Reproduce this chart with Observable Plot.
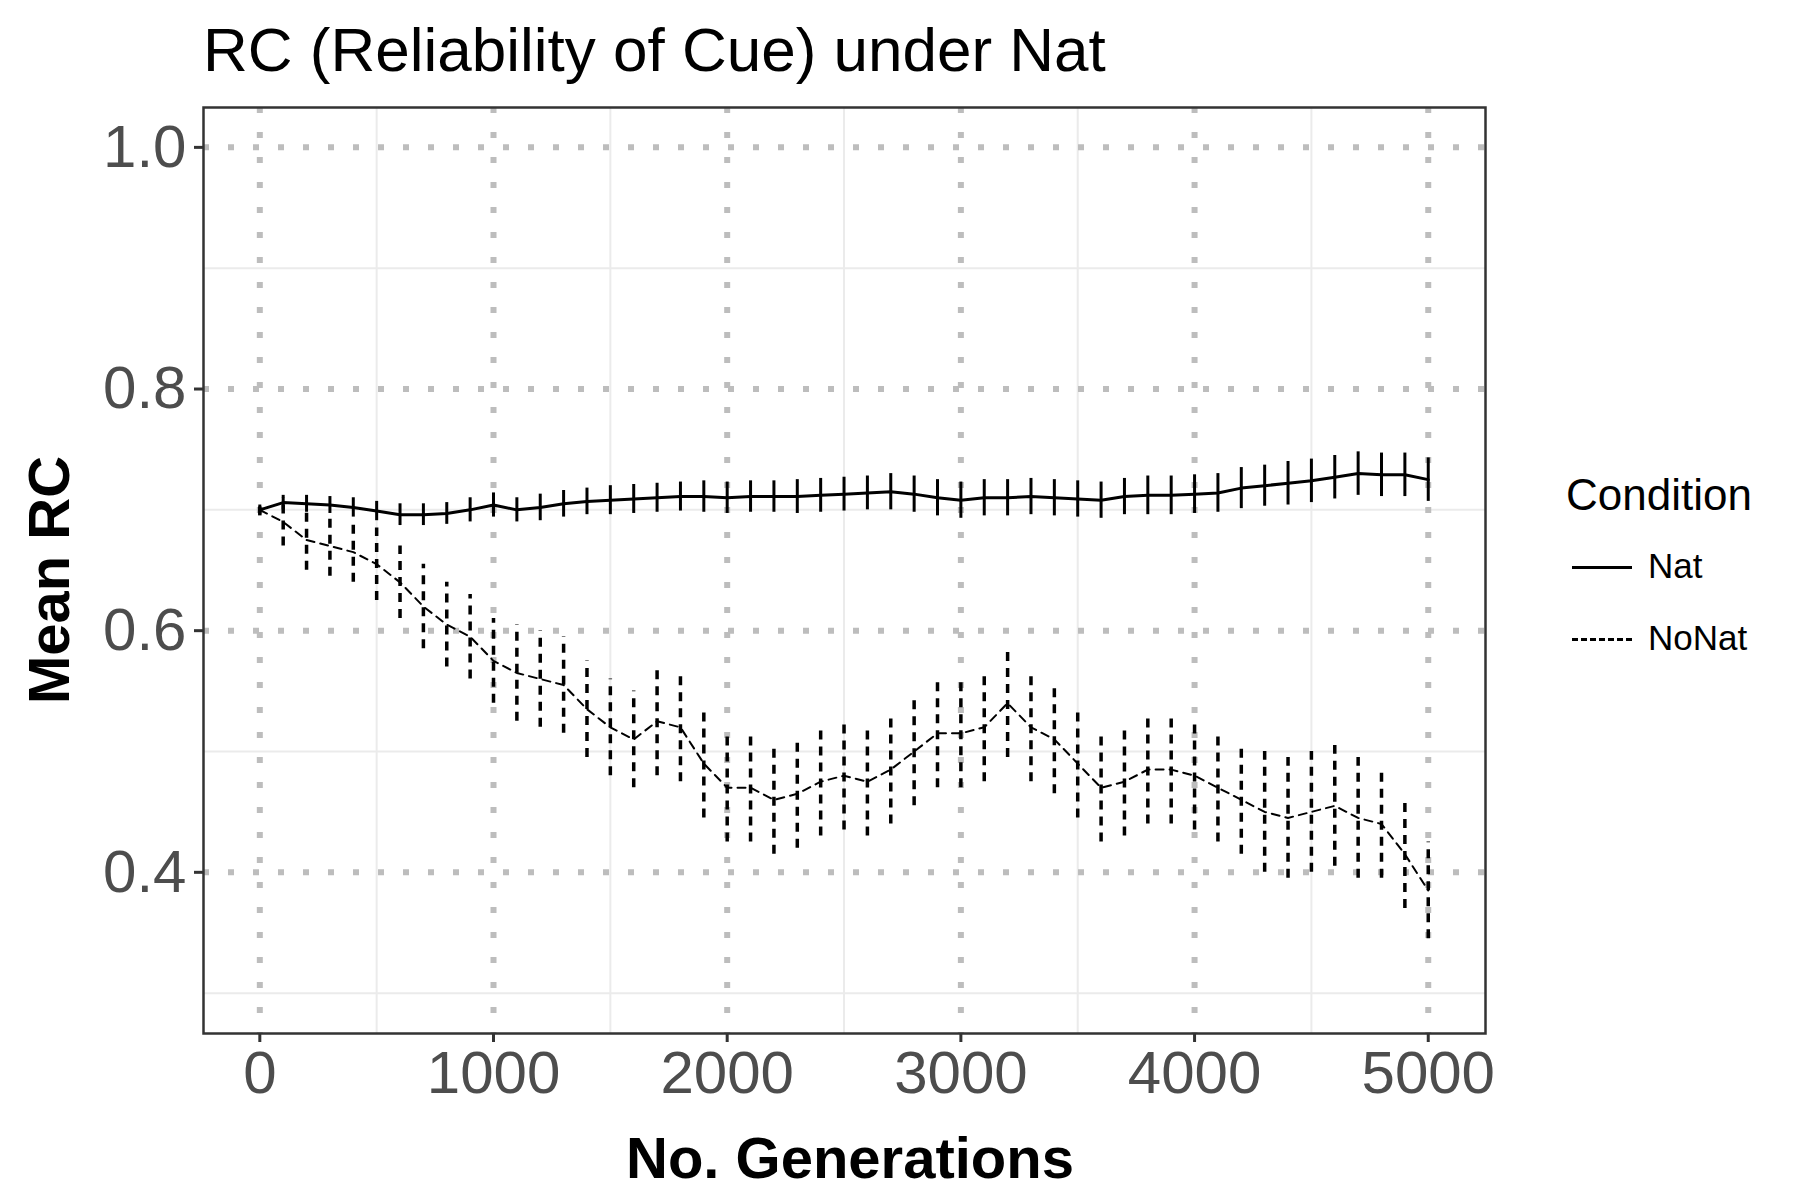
<!DOCTYPE html>
<html><head><meta charset="utf-8">
<script src="https://cdn.jsdelivr.net/npm/d3@7"></script>
<script src="https://cdn.jsdelivr.net/npm/@observablehq/plot@0.6"></script>
<style>
body{margin:0;background:#fff;font-family:"Liberation Sans",Arial,sans-serif;}
#wrap{position:relative;width:1800px;height:1200px;}
.t{position:absolute;white-space:nowrap;color:#000;}
</style></head><body>
<div id="wrap">
<div class="t" style="left:203px;top:14px;font-size:62px;">RC (Reliability of Cue) under Nat</div>
<div class="t" style="left:0;top:1124px;width:1700px;text-align:center;font-size:58px;font-weight:bold;">No. Generations</div>
<div class="t" style="left:48px;top:580px;font-size:58px;font-weight:bold;transform:translate(-50%,-50%) rotate(-90deg);">Mean RC</div>
<div class="t" style="left:1566px;top:470px;font-size:44px;">Condition</div>
<div style="position:absolute;left:1572px;top:566px;width:60px;border-top:3px solid #000;"></div>
<div class="t" style="left:1648px;top:546px;font-size:35px;">Nat</div>
<div style="position:absolute;left:1572px;top:638px;width:60px;border-top:3px dashed #000;"></div>
<div class="t" style="left:1648px;top:618px;font-size:35px;">NoNat</div>
</div>
<script>
const gens = d3.range(0, 5001, 100);
const natMean = [0.700,0.706,0.705,0.704,0.702,0.699,0.696,0.696,0.697,0.700,0.704,0.700,0.702,0.705,0.707,0.708,0.709,0.710,0.711,0.711,0.710,0.711,0.711,0.711,0.712,0.713,0.714,0.715,0.713,0.710,0.708,0.710,0.710,0.711,0.710,0.709,0.708,0.711,0.712,0.712,0.713,0.714,0.718,0.720,0.722,0.724,0.727,0.730,0.729,0.729,0.725];
const natErr = [0.004,0.006,0.007,0.007,0.008,0.008,0.009,0.009,0.009,0.010,0.010,0.010,0.011,0.011,0.011,0.012,0.012,0.012,0.012,0.013,0.013,0.013,0.013,0.014,0.014,0.014,0.014,0.015,0.015,0.015,0.015,0.015,0.015,0.015,0.015,0.015,0.015,0.015,0.016,0.016,0.016,0.016,0.017,0.017,0.018,0.018,0.018,0.018,0.018,0.018,0.018];
const noMean = [0.700,0.690,0.675,0.670,0.665,0.655,0.640,0.620,0.605,0.595,0.575,0.565,0.560,0.555,0.535,0.520,0.510,0.525,0.520,0.490,0.470,0.470,0.460,0.465,0.475,0.480,0.475,0.485,0.500,0.515,0.515,0.520,0.540,0.520,0.510,0.490,0.470,0.475,0.485,0.485,0.480,0.470,0.460,0.450,0.445,0.450,0.455,0.445,0.440,0.415,0.385];
const noErr = [0.005,0.020,0.025,0.025,0.025,0.030,0.030,0.035,0.035,0.035,0.035,0.040,0.040,0.040,0.040,0.040,0.040,0.045,0.045,0.045,0.045,0.045,0.045,0.045,0.045,0.045,0.045,0.045,0.045,0.045,0.045,0.045,0.045,0.045,0.045,0.045,0.045,0.045,0.045,0.045,0.045,0.045,0.045,0.050,0.050,0.050,0.050,0.050,0.045,0.045,0.040];
const nat = gens.map((g,i)=>({g, m:natMean[i], e:natErr[i]}));
const no = gens.map((g,i)=>({g, m:noMean[i], e:noErr[i]}));
const xMajor = [0,1000,2000,3000,4000,5000], xMinor=[500,1500,2500,3500,4500];
const yMajor = [0.4,0.6,0.8,1.0], yMinor=[0.3,0.5,0.7,0.9];
const grey="#bdbdbd";
const chart = Plot.plot({
  width:1800, height:1200,
  marginLeft:203, marginRight:315, marginTop:107, marginBottom:167,
  style:{fontFamily:"Liberation Sans, Arial, sans-serif", fontSize:"60px", color:"#4d4d4d", background:"transparent"},
  x:{domain:[-241,5245], ticks:xMajor, tickSize:9, tickPadding:8, label:null, tickFormat:d3.format("d")},
  y:{domain:[0.2666,1.033], ticks:yMajor, tickSize:9, tickPadding:8, label:null, tickFormat:d3.format(".1f")},
  marks:[
    Plot.ruleX(xMinor,{stroke:"#ebebeb",strokeWidth:2}),
    Plot.ruleY(yMinor,{stroke:"#ebebeb",strokeWidth:2}),
    Plot.ruleX(xMajor,{stroke:grey,strokeWidth:6,strokeDasharray:"6,19"}),
    Plot.ruleY(yMajor,{stroke:grey,strokeWidth:6,strokeDasharray:"6,19"}),
    Plot.ruleX(no,{x:"g",y1:d=>d.m-d.e,y2:d=>d.m+d.e,stroke:"#000",strokeWidth:3.5,strokeDasharray:"9,7"}),
    Plot.line(no,{x:"g",y:"m",stroke:"#000",strokeWidth:2,strokeDasharray:"8,6"}),
    Plot.ruleX(nat,{x:"g",y1:d=>d.m-d.e,y2:d=>d.m+d.e,stroke:"#000",strokeWidth:3}),
    Plot.line(nat,{x:"g",y:"m",stroke:"#000",strokeWidth:3}),
    Plot.frame({stroke:"#333",strokeWidth:2.5})
  ]
});
chart.style.position="absolute"; chart.style.left="0"; chart.style.top="0";
d3.select(chart).selectAll("[aria-label$='tick'] path, [aria-label$='tick'] line").attr("stroke","#333").attr("stroke-width",3);
document.getElementById("wrap").prepend(chart);
</script>
</body></html>
